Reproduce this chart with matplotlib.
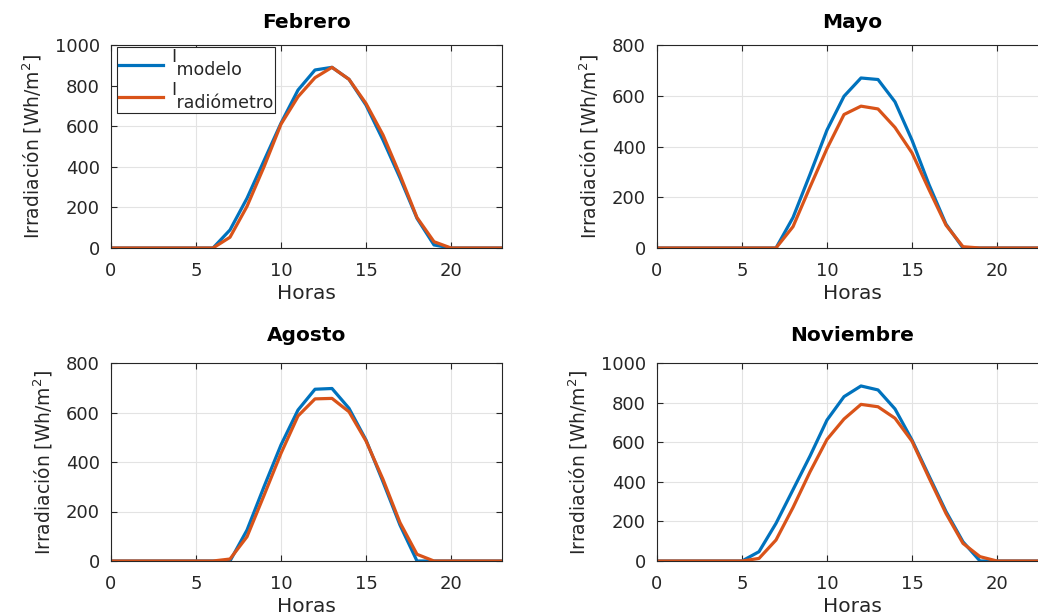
import matplotlib
matplotlib.use("Agg")
import matplotlib.pyplot as plt
import numpy as np

plt.rcParams['font.family'] = ['DejaVu Sans']

horas = list(range(24))

# Febrero
feb_modelo = [0, 0, 0, 0, 0, 0, 0, 89, 245, 430, 615, 778, 877, 890, 831, 704,
              532, 345, 146, 15, 0, 0, 0, 0]
feb_radiom = [0, 0, 0, 0, 0, 0, 0, 53, 205, 400, 610, 745, 839, 890, 831, 712,
              557, 360, 150, 31, 0, 0, 0, 0]
# Mayo
may_modelo = [0, 0, 0, 0, 0, 0, 0, 0, 120, 290, 465, 598, 670, 664, 576, 425,
              250, 94, 0, 0, 0, 0, 0, 0]
may_radiom = [0, 0, 0, 0, 0, 0, 0, 0, 84, 240, 392, 526, 559, 548, 475, 375,
              230, 90, 5, 0, 0, 0, 0, 0]
# Agosto
ago_modelo = [0, 0, 0, 0, 0, 0, 0, 0, 125, 300, 469, 610, 694, 697, 617, 489,
              320, 145, 0, 0, 0, 0, 0, 0]
ago_radiom = [0, 0, 0, 0, 0, 0, 0, 8, 98, 265, 435, 586, 655, 657, 603, 485,
              330, 155, 27, 0, 0, 0, 0, 0]
# Noviembre
nov_modelo = [0, 0, 0, 0, 0, 0, 47, 190, 360, 530, 712, 830, 884, 864, 768, 611,
              430, 250, 97, 0, 0, 0, 0, 0]
nov_radiom = [0, 0, 0, 0, 0, 0, 13, 106, 270, 450, 614, 717, 791, 779, 721, 605,
              420, 240, 89, 22, 0, 0, 0, 0]

meses = ['Febrero', 'Mayo', 'Agosto', 'Noviembre']
modelo = [feb_modelo, may_modelo, ago_modelo, nov_modelo]
radiom = [feb_radiom, may_radiom, ago_radiom, nov_radiom]
ylims = [1000, 800, 800, 1000]

azul = '#0072BD'
naranja = '#D95319'
gris = '#262626'

W, H = 1038, 616
fig = plt.figure(figsize=(W/100, H/100), dpi=100)
# left, top, right, bottom in pixels
cajas = [(111, 45, 502, 248), (657, 45, 1048, 248),
         (111, 363, 502, 561), (657, 363, 1048, 561)]
title_pads = [12, 12, 16, 16]

for i in range(4):
    l, t, r, b = cajas[i]
    ax = fig.add_axes([l/W, 1-b/H, (r-l)/W, (b-t)/H])
    ax.plot(horas, modelo[i], color=azul, lw=2.3, label='I\n modelo')
    ax.plot(horas, radiom[i], color=naranja, lw=2.3, label='I\n radiómetro')
    ax.set_xlim(0, 23)
    ax.set_ylim(0, ylims[i])
    ax.set_xticks([0, 5, 10, 15, 20])
    ax.set_yticks(np.arange(0, ylims[i]+1, 200))
    ax.grid(True, color='#e3e3e3', lw=0.8)
    ax.tick_params(direction='in', labelsize=13, colors=gris, length=4,
                   top=True, right=True)
    ax.tick_params(axis='x', pad=10)
    ax.tick_params(axis='y', pad=8)
    for s in ax.spines.values():
        s.set_color(gris)
        s.set_linewidth(0.8)
    ax.set_title(meses[i], fontsize=14.5, fontweight='bold', pad=title_pads[i])
    ax.set_xlabel('Horas', fontsize=14.5, labelpad=3, color=gris)
    ax.set_ylabel(r'Irradiación [Wh/m$^2$]', fontsize=13.5, labelpad=8, color=gris)
    if i == 0:
        leg = ax.legend(loc='upper left', fontsize=12.5, fancybox=False,
                        bbox_to_anchor=(0.012, 1.0), borderaxespad=0.1,
                        handlelength=2.5, labelspacing=0.1,
                        borderpad=0.1, handletextpad=0.5)
        for tx in leg.get_texts():
            tx.set_linespacing(0.62)
            tx.set_color(gris)
        leg.get_frame().set_edgecolor(gris)
        leg.get_frame().set_linewidth(0.8)
        leg.get_frame().set_alpha(1)

fig.savefig('out.png', dpi=100)
